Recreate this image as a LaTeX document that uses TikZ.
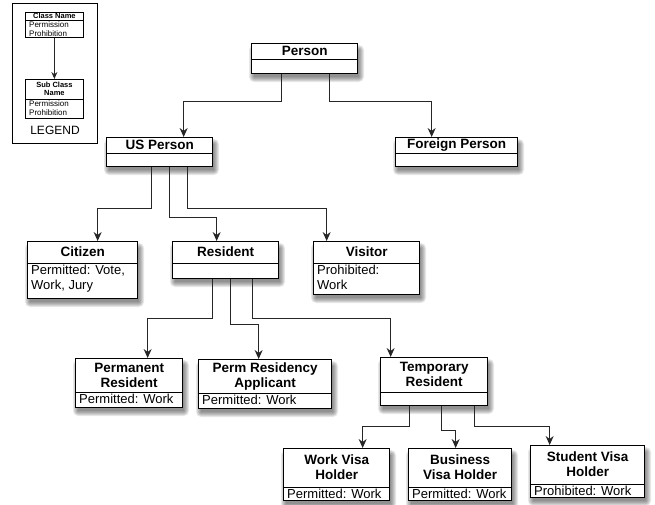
\documentclass[tikz,border=0pt]{standalone}
\usepackage{fontspec}
\setmainfont{Liberation Sans}
\usetikzlibrary{arrows.meta,calc}
\tikzset{
  cls/.style={draw=black, fill=white, line width=1.3pt, inner sep=0pt},
  shadowlayer/.style={fill=black, opacity=0.09, draw=none},
  sepline/.style={draw=black, line width=1pt},
  titletext/.style={inner sep=0pt, align=center, font=\fontsize{13.5}{15}\selectfont\bfseries},
  bodytext/.style={inner sep=0pt, align=left, font=\fontsize{13}{15}\selectfont},
  arr/.style={draw=black!85, line width=1.2pt, -{Stealth[length=9pt,width=8pt]}},
  lcls/.style={draw=black, fill=white, line width=0.8pt, inner sep=0pt},
  ltitle/.style={inner sep=0pt, align=center, font=\fontsize{7.5}{8.5}\selectfont\bfseries},
  lbody/.style={inner sep=0pt, align=left, font=\fontsize{8}{9}\selectfont},
}
% #1 name, #2 x, #3 y, #4 w, #5 h, #6 header height, #7 title, #8 body
\newcommand\umlbox[8]{%
  \foreach \r in {0,1,...,5}{%
    \fill[shadowlayer, rounded corners=\r pt] (#2+3-\r, #3+7-\r) rectangle (#2+#4+2+\r, #3+#5+4+\r);
  }
  \node[cls, minimum width=#4pt, minimum height=#5pt, anchor=north west] (#1) at (#2,#3) {};
  \draw[sepline] ([yshift=-#6pt]#1.north west) -- ([yshift=-#6pt]#1.north east);
  \node[titletext] (#1-t) at ([yshift=-#6pt/2]#1.north) {#7};
  \node[bodytext, anchor=north west] (#1-b) at ([xshift=4pt,yshift=-#6pt-2pt]#1.north west) {#8};
}
\begin{document}
\begin{tikzpicture}[x=1pt,y=-1pt]
\useasboundingbox (0,0) rectangle (655,504);

% Legend
\node[draw=black, line width=0.9pt, minimum width=85pt, minimum height=140pt, anchor=north west, inner sep=0pt] (legend) at (12,3) {};
\node[lcls, minimum width=58pt, minimum height=25pt, anchor=north west] (lc) at (25,12) {};
\draw[line width=0.7pt] ([yshift=-8pt]lc.north west) -- ([yshift=-8pt]lc.north east);
\node[ltitle] (lc-t) at ([yshift=-4pt]lc.north) {Class Name};
\node[lbody, anchor=north west] (lc-b) at ([xshift=4pt,yshift=-9pt]lc.north west) {Permission\\Prohibition};
\node[lcls, minimum width=58pt, minimum height=39pt, anchor=north west] (ls) at (25,79) {};
\draw[line width=0.7pt] ([yshift=-20pt]ls.north west) -- ([yshift=-20pt]ls.north east);
\node[ltitle] (ls-t) at ([yshift=-10pt]ls.north) {Sub Class\\Name};
\node[lbody, anchor=north west] (ls-b) at ([xshift=4pt,yshift=-21pt]ls.north west) {Permission\\Prohibition};
\draw[arr, line width=1pt, -{Stealth[length=7pt,width=6pt]}] (lc.south) -- (ls.north);
\node[inner sep=0pt, font=\fontsize{12}{14}\selectfont] (legend-t) at (55,130) {LEGEND};

% Classes
\umlbox{person}{251}{43}{106}{30}{16}{Person}{}
\umlbox{usperson}{106}{137}{106}{29}{16}{US Person}{}
\umlbox{foreign}{395}{137}{122}{29}{16}{Foreign Person}{}
\umlbox{citizen}{27}{241}{110}{57}{22}{Citizen}{Permitted: Vote,\\Work, Jury}
\umlbox{resident}{172}{241}{106}{37}{22}{Resident}{}
\umlbox{visitor}{313}{241}{106}{53}{22}{Visitor}{Prohibited:\\Work}
\umlbox{permres}{75}{358}{107}{49}{34}{Permanent\\Resident}{Permitted: Work}
\umlbox{permapp}{198}{359}{133}{49}{34}{Perm Residency\\Applicant}{Permitted: Work}
\umlbox{tempres}{380}{357}{107}{48}{35}{Temporary\\Resident}{}
\umlbox{workvisa}{283}{448}{106}{52}{39}{Work Visa\\Holder}{Permitted: Work}
\umlbox{busvisa}{408}{448}{103}{52}{39}{Business\\Visa Holder}{Permitted: Work}
\umlbox{studvisa}{530}{445}{114}{52}{39}{Student Visa\\Holder}{Prohibited: Work}

% Connectors
\draw[arr] ([xshift=-23pt]person.south) -- ++(0,27) -| ([xshift=24pt]usperson.north);
\draw[arr] ([xshift=25pt]person.south) -- ++(0,27) -| ([xshift=-25pt]foreign.north);

\draw[arr] ([xshift=-8pt]usperson.south) -- ++(0,41) -| ([xshift=15pt]citizen.north);
\draw[arr] ([xshift=10pt]usperson.south) -- ++(0,50) -| ([xshift=-9pt]resident.north);
\draw[arr] ([xshift=28pt]usperson.south) -- ++(0,41) -| ([xshift=-40pt]visitor.north);

\draw[arr] ([xshift=-13pt]resident.south) -- ++(0,39) -| ([xshift=18.5pt]permres.north);
\draw[arr] ([xshift=5pt]resident.south) -- ++(0,45) -| ([xshift=-6.5pt]permapp.north);
\draw[arr] ([xshift=27pt]resident.south) -- ++(0,39) -| ([xshift=-43.5pt]tempres.north);

\draw[arr] ([xshift=-24.5pt]tempres.south) -- ++(0,20) -| ([xshift=26pt]workvisa.north);
\draw[arr] ([xshift=7.5pt]tempres.south) -- ++(0,24) -| ([xshift=-4.5pt]busvisa.north);
\draw[arr] ([xshift=40.5pt]tempres.south) -- ++(0,20) -| ([xshift=-38pt]studvisa.north);
\end{tikzpicture}
\end{document}
